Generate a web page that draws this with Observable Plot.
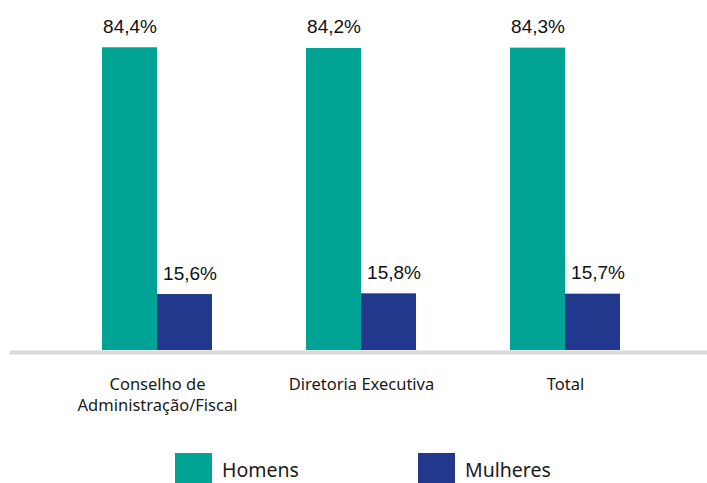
<!DOCTYPE html>
<html>
<head>
<meta charset="utf-8">
<script src="https://cdn.jsdelivr.net/npm/d3@7"></script>
<script src="https://cdn.jsdelivr.net/npm/@observablehq/plot@0.6"></script>
<style>
  body { margin: 0; background: #fff; font-family: "Noto Sans", sans-serif; }
  #legend { display: flex; margin-top: 13px; padding-left: 175px; font-size: 19.5px; color: #1a1a1a; }
  .item { display: flex; align-items: flex-start; }
  .sw { width: 37px; height: 32px; margin-right: 10px; }
  .lab { line-height: 34px; }
</style>
</head>
<body>
<div id="chart"></div>
<script>
const groups = ["Conselho de Administração/Fiscal", "Diretoria Executiva", "Total"];
const groupLabels = ["Conselho de\nAdministração/Fiscal", "Diretoria Executiva", "Total"];
const series = ["Homens", "Mulheres"];
const homens = [84.4, 84.2, 84.3];
const mulheres = [15.6, 15.8, 15.7];
const colors = ["#00a394", "#21388d"];

const data = [];
groups.forEach((g, i) => {
  data.push({group: g, series: series[0], value: homens[i]});
  data.push({group: g, series: series[1], value: mulheres[i]});
});
const fmt = v => v.toFixed(1).replace(".", ",") + "%";
const labelStyle = {fx: "group", x: "series", y: "value", text: d => fmt(d.value),
  lineAnchor: "bottom", dy: -15, fontSize: 19, fontFamily: "'Liberation Sans', Arial, sans-serif", fill: "#111"};

const chart = Plot.plot({
  width: 707,
  height: 440,
  marginLeft: 14,
  marginRight: 0,
  marginTop: 20,
  marginBottom: 90,
  style: {fontFamily: "'Noto Sans', sans-serif", fontSize: "16.5px", color: "#1a1a1a", background: "#fff"},
  fx: {domain: groups, paddingInner: 0.463, paddingOuter: 0.43, label: null},
  x: {domain: series, padding: 0, axis: null},
  y: {domain: [0, 92], axis: null},
  color: {domain: series, range: colors},
  marks: [
    Plot.frame({anchor: "bottom", facet: "super", stroke: "#d9d9d9", strokeWidth: 4, dy: 2, insetLeft: -91, insetRight: -88}),
    Plot.axisFx({anchor: "bottom", label: null, tickSize: 0, tickPadding: 25, lineHeight: 1.25, fontSize: 16.5,
      tickFormat: g => groupLabels[groups.indexOf(g)], fill: "#1a1a1a"}),
    Plot.barY(data, {fx: "group", x: "series", y: "value", fill: "series"}),
    Plot.text(data.filter(d => d.series === "Homens"), labelStyle),
    Plot.text(data.filter(d => d.series === "Mulheres"), {...labelStyle, dx: 5})
  ]
});
document.getElementById("chart").appendChild(chart);

const legend = document.createElement("div");
legend.id = "legend";
series.forEach((s, i) => {
  const it = document.createElement("div");
  it.className = "item";
  it.style.width = i === 0 ? "243px" : "auto";
  it.innerHTML = `<div class="sw" style="background:${colors[i]}"></div><div class="lab">${s}</div>`;
  legend.appendChild(it);
});
document.body.appendChild(legend);
</script>
</body>
</html>
